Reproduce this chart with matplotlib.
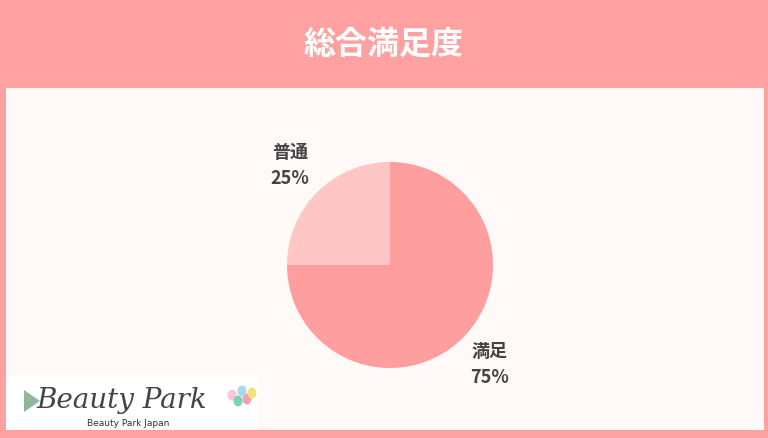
import numpy as np
import matplotlib.pyplot as plt
from matplotlib.patches import Rectangle, Polygon, Ellipse

plt.rcParams['font.family'] = ['Noto Sans CJK JP', 'DejaVu Sans']

title = '総合満足度'
labels = ['満足', '普通']
values = [75, 25]
colors = ['#FF9E9E', '#FFC6C6']

W, H = 768, 438
fig = plt.figure(figsize=(W / 100, H / 100), dpi=100)
fig.patch.set_facecolor('#FFA1A1')

# inner panel
fig.patches.append(Rectangle((6 / W, 8 / H), 758 / W, 342 / H, transform=fig.transFigure,
                             facecolor='#FFF9F8', edgecolor='none', zorder=0))
fig.text(0.5, 1 - 45 / H, title, ha='center', va='center', color='white',
         fontsize=23, fontweight='bold')

# pie
cx, cy, r = 390, H - 265, 103
ax = fig.add_axes([(cx - r) / W, (cy - r) / H, 2 * r / W, 2 * r / H])
ax.set_zorder(5)
ax.pie(values, colors=colors, startangle=90, counterclock=False, radius=1,
       wedgeprops=dict(linewidth=0))
ax.set_xlim(-1, 1)
ax.set_ylim(-1, 1)
ax.set_aspect('equal')
ax.axis('off')

theta = 90.0
for lab, v in zip(labels, values):
    mid = np.deg2rad(theta - v * 360 / 100 / 2)
    theta -= v * 360 / 100
    ax.text(1.37 * np.cos(mid), 1.37 * np.sin(mid), f'{lab}\n{v}%', ha='center', va='center',
            fontsize=13, fontweight='bold', color='#444444', linespacing=1.45)

# logo box
fig.patches.append(Rectangle((6 / W, 8 / H), 252 / W, 54 / H, transform=fig.transFigure,
                             facecolor='white', edgecolor='none', zorder=1))
fig.patches.append(Polygon([(24 / W, 1 - 390 / H), (24 / W, 1 - 412 / H), (40 / W, 1 - 401 / H)],
                           closed=True, transform=fig.transFigure, facecolor='#8FB89A',
                           edgecolor='none', zorder=2))
fig.text(36 / W, 1 - 401 / H, 'Beauty Park', ha='left', va='center', fontsize=20,
         family='DejaVu Serif', style='italic', color='#444444', zorder=3)
fig.text(128 / W, 1 - 423 / H, 'Beauty Park Japan', ha='center', va='center', fontsize=6.5,
         family='DejaVu Sans', color='#333333', zorder=3)
for ex, ey, c in [(232, 395, '#F7C6D9'), (238, 401, '#7DD3B0'), (247, 399, '#F3A0B5'),
                  (252, 393, '#F2E27A'), (242, 391, '#A8D8F0')]:
    fig.patches.append(Ellipse((ex / W, 1 - ey / H), 9 / W, 11 / H, transform=fig.transFigure,
                               facecolor=c, edgecolor='none', zorder=2))

fig.savefig('out.png', dpi=100, facecolor=fig.get_facecolor())
